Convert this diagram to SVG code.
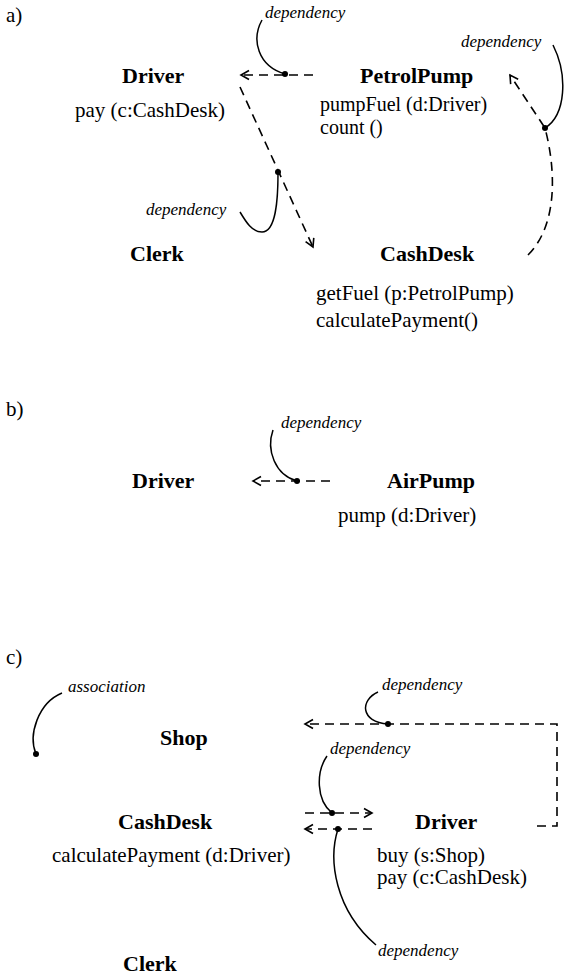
<svg xmlns="http://www.w3.org/2000/svg" width="565" height="978" viewBox="0 0 565 978">
<defs>
<marker id="ah" markerWidth="12" markerHeight="12" refX="10" refY="6" orient="auto" markerUnits="userSpaceOnUse">
<path d="M2,1.5 L10,6 L2,10.5" fill="none" stroke="#000" stroke-width="1.6"/>
</marker>
<style>
.t{font-family:"Liberation Serif","Times New Roman",serif;font-size:21px;fill:#000}
.s{font-family:"Liberation Serif","Times New Roman",serif;font-size:20px;fill:#000}
.b{font-family:"Liberation Serif","Times New Roman",serif;font-size:22px;font-weight:bold;fill:#000}
.i{font-family:"Liberation Serif","Times New Roman",serif;font-size:17px;font-style:italic;fill:#000}
.d{fill:none;stroke:#000;stroke-width:1.6;stroke-dasharray:9 6}
.c{fill:none;stroke:#000;stroke-width:1.5}
.dot{fill:#000}
</style>
</defs>
<rect width="565" height="978" fill="#fff"/>
<text class="t" x="6" y="22">a)</text>
<text class="t" x="6" y="416">b)</text>
<text class="t" x="6" y="664">c)</text>

<g id="a-driver"><text class="b" x="122" y="83">Driver</text><text class="t" x="75" y="117">pay (c:CashDesk)</text></g>
<g id="a-petrolpump"><text class="b" x="360" y="83">PetrolPump</text><text class="s" x="320" y="111">pumpFuel (d:Driver)</text><text class="s" x="320" y="134">count ()</text></g>
<g id="a-clerk"><text class="b" x="130" y="261">Clerk</text></g>
<g id="a-cashdesk"><text class="b" x="380" y="261">CashDesk</text><text class="t" x="316" y="300">getFuel (p:PetrolPump)</text><text class="t" x="316" y="327">calculatePayment()</text></g>

<g id="b-driver"><text class="b" x="132" y="488">Driver</text></g>
<g id="b-airpump"><text class="b" x="387" y="488">AirPump</text><text class="t" x="338" y="522">pump (d:Driver)</text></g>

<g id="c-shop"><text class="b" x="160" y="745">Shop</text></g>
<g id="c-cashdesk"><text class="b" x="118" y="829">CashDesk</text><text class="t" x="52" y="862">calculatePayment (d:Driver)</text></g>
<g id="c-driver"><text class="b" x="415" y="829">Driver</text><text class="t" x="377" y="862">buy (s:Shop)</text><text class="t" x="377" y="884">pay (c:CashDesk)</text></g>
<g id="c-clerk"><text class="b" x="123" y="971">Clerk</text></g>

<g id="labels">
<text class="i" x="265" y="18">dependency</text>
<text class="i" x="461" y="47">dependency</text>
<text class="i" x="146" y="215">dependency</text>
<text class="i" x="281" y="428">dependency</text>
<text class="i" x="68" y="692">association</text>
<text class="i" x="382" y="690">dependency</text>
<text class="i" x="330" y="754">dependency</text>
<text class="i" x="378" y="956">dependency</text>
</g>

<g id="connectors">
<line class="d" x1="313" y1="75" x2="241" y2="75" marker-end="url(#ah)"/>
<line class="d" x1="240" y1="87" x2="313" y2="247" marker-end="url(#ah)"/>
<path class="d" d="M528,255 C558,225 556,170 545,128 L510,75" marker-end="url(#ah)"/>
<line class="d" x1="330" y1="481" x2="253" y2="481" marker-end="url(#ah)"/>
<path class="d" d="M537,826 L557,826 L557,724 L305,724" marker-end="url(#ah)"/>
<line class="d" x1="305" y1="813" x2="372" y2="813" marker-end="url(#ah)"/>
<line class="d" x1="372" y1="829" x2="305" y2="829" marker-end="url(#ah)"/>

<path class="c" d="M285,74 C258,66 251,40 262,20"/>
<path class="c" d="M553,45 C568,75 566,115 545,128"/>
<path class="c" d="M278,173 C278,200 276,232 262,232 C252,232 246,222 240,212"/>
<path class="c" d="M297,481 C275,475 266,450 273,430"/>
<path class="c" d="M62,693 C38,703 28,735 36,754"/>
<path class="c" d="M378,692 C360,700 360,722 388,724"/>
<path class="c" d="M327,756 C316,772 316,800 332,813"/>
<path class="c" d="M338,829 C328,860 335,910 376,945"/>

<circle class="dot" cx="285" cy="74" r="3"/>
<circle class="dot" cx="545" cy="128" r="3"/>
<circle class="dot" cx="278" cy="172" r="3"/>
<circle class="dot" cx="297" cy="481" r="3"/>
<circle class="dot" cx="36" cy="754" r="3"/>
<circle class="dot" cx="388" cy="724" r="3"/>
<circle class="dot" cx="332" cy="813" r="3"/>
<circle class="dot" cx="338" cy="829" r="3"/>
</g>
</svg>
